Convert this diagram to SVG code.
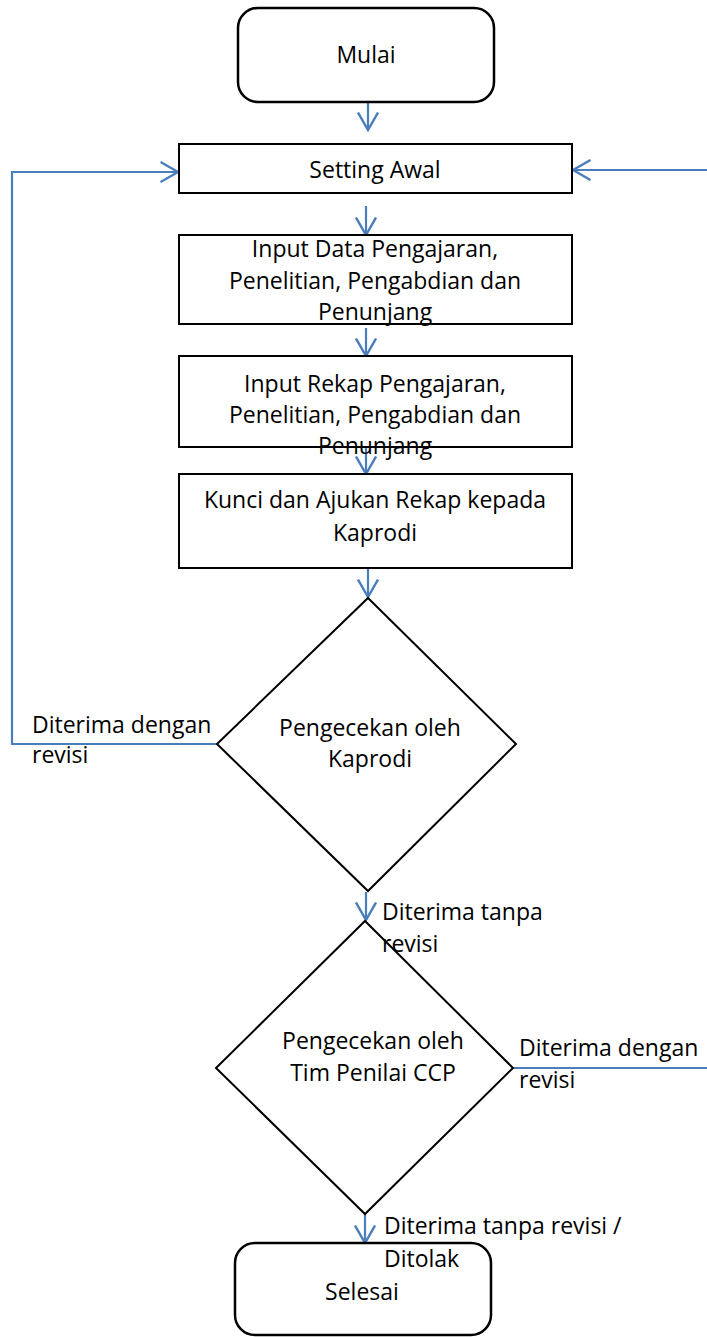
<svg xmlns="http://www.w3.org/2000/svg" width="707" height="1337" viewBox="0 0 707 1337">
<defs>
<style>
.box{fill:#fff;stroke:#000;stroke-width:2}
.term{fill:#fff;stroke:#000;stroke-width:2.5}
.t{font-family:"Open Sans","Liberation Sans",Arial,sans-serif;font-size:23px;fill:#000}
.c{text-anchor:middle}
.con{fill:none;stroke:#4A7EBB;stroke-width:2.2}
</style>
<marker id="arr" viewBox="0 0 20 22" refX="18.5" refY="11" markerWidth="20" markerHeight="22" markerUnits="userSpaceOnUse" orient="auto">
<path d="M1,1 L18.5,11 L1,21" fill="none" stroke="#4A7EBB" stroke-width="2.4"/>
</marker>
</defs>
<rect width="707" height="1337" fill="#fff"/>
<g id="connectors">
<line class="con" x1="368" y1="102" x2="368" y2="130" marker-end="url(#arr)"/>
<line class="con" x1="366" y1="206" x2="366" y2="235" marker-end="url(#arr)"/>
<line class="con" x1="366" y1="328" x2="366" y2="356" marker-end="url(#arr)"/>
<line class="con" x1="366" y1="447" x2="366" y2="474" marker-end="url(#arr)"/>
<line class="con" x1="368" y1="568" x2="368" y2="597" marker-end="url(#arr)"/>
<polyline class="con" points="217,744 12,744 12,172 178,172" marker-end="url(#arr)"/>
<line class="con" x1="366" y1="892" x2="366" y2="920" marker-end="url(#arr)"/>
<polyline class="con" points="513,1068 712,1068 712,170 573,170" marker-end="url(#arr)"/>
<line class="con" x1="365" y1="1214" x2="365" y2="1243" marker-end="url(#arr)"/>
</g>
<g id="mulai"><rect class="term" x="238" y="8" width="256" height="94" rx="20"/><text class="t c" x="366" y="63">Mulai</text></g>
<g id="setting"><rect class="box" x="179" y="144" width="393" height="49"/><text class="t c" x="375" y="178">Setting Awal</text></g>
<g id="inputdata"><rect class="box" x="179" y="235" width="393" height="89"/><text class="t c" x="375" y="257">Input Data Pengajaran,</text><text class="t c" x="375" y="289">Penelitian, Pengabdian dan</text><text class="t c" x="375" y="320">Penunjang</text></g>
<g id="inputrekap"><rect class="box" x="179" y="356" width="393" height="91"/><text class="t c" x="375" y="392">Input Rekap Pengajaran,</text><text class="t c" x="375" y="423">Penelitian, Pengabdian dan</text><text class="t c" x="375" y="454">Penunjang</text></g>
<g id="kunci"><rect class="box" x="179" y="474" width="393" height="94"/><text class="t c" x="375" y="508">Kunci dan Ajukan Rekap kepada</text><text class="t c" x="375" y="541">Kaprodi</text></g>
<g id="cek1"><polygon class="box" points="368,598 516,744 368,891 217,744"/><text class="t c" x="370" y="736">Pengecekan oleh</text><text class="t c" x="370" y="767">Kaprodi</text></g>
<g id="cek2"><polygon class="box" points="365,921 513,1068 365,1214 216,1068"/><text class="t c" x="373" y="1049">Pengecekan oleh</text><text class="t c" x="373" y="1081">Tim Penilai CCP</text></g>
<g id="selesai"><rect class="term" x="235" y="1243" width="256" height="92" rx="20"/><text class="t c" x="362" y="1300">Selesai</text></g>
<g id="labels">
<text class="t" x="32" y="733">Diterima dengan</text><text class="t" x="32" y="763">revisi</text>
<text class="t" x="382" y="920">Diterima tanpa</text><text class="t" x="382" y="952">revisi</text>
<text class="t" x="519" y="1056">Diterima dengan</text><text class="t" x="519" y="1088">revisi</text>
<text class="t" x="384" y="1234">Diterima tanpa revisi /</text><text class="t" x="384" y="1267">Ditolak</text>
</g>
</svg>
